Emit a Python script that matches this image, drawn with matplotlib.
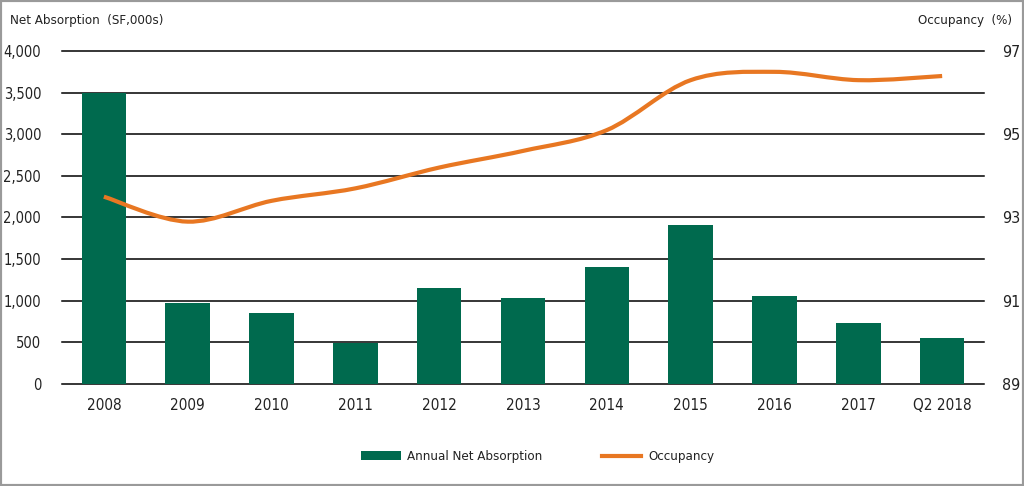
import matplotlib
matplotlib.use("Agg")
import matplotlib.pyplot as plt
from matplotlib.path import Path
from matplotlib.patches import PathPatch, Rectangle, Patch
from matplotlib.lines import Line2D
import numpy as np

plt.rcParams['font.family'] = ['DejaVu Sans']
plt.rcParams['font.stretch'] = 'condensed'

categories = ["2008", "2009", "2010", "2011", "2012", "2013", "2014", "2015", "2016", "2017", "Q2 2018"]
net_absorption = [3500, 970, 850, 495, 1155, 1035, 1405, 1910, 1055, 735, 550]
occupancy = [93.5, 92.9, 93.4, 93.7, 94.2, 94.6, 95.1, 96.3, 96.5, 96.3, 96.4]

left_ticks = [0, 500, 1000, 1500, 2000, 2500, 3000, 3500, 4000]
right_ticks = [89, 91, 93, 95, 97]

green = "#006a4e"
orange = "#e87722"
textc = "#222222"

fig = plt.figure(figsize=(10.24, 4.86), dpi=100)
ax = fig.add_axes([0.0605, 0.21, 0.9005, 0.685])
x = np.arange(len(categories))
ax.bar(x, net_absorption, width=0.53, color=green, zorder=3)
ax.set_xlim(-0.5, len(categories) - 0.5)
ax.set_ylim(0, 4000)
ax.set_yticks(left_ticks)
ax.set_yticklabels([f"{v:,}" for v in left_ticks])
ax.set_xticks(x)
ax.set_xticklabels(categories)
ax.grid(axis='y', color='black', linewidth=1.1, zorder=0)
for gl in ax.yaxis.get_gridlines():
    gl.set_clip_on(False)
for s in ax.spines.values():
    s.set_visible(False)
ax.tick_params(axis='both', length=0, colors=textc)
ax.tick_params(axis='y', pad=15, labelsize=10.5)
ax.tick_params(axis='x', pad=10, labelsize=11)

ax2 = ax.twinx()
ax2.set_ylim(89, 97)
ax2.set_yticks(right_ticks)
for s in ax2.spines.values():
    s.set_visible(False)
ax2.tick_params(axis='y', length=0, labelsize=11.5, pad=13, colors=textc)

# smooth curve through the data points (Catmull-Rom as cubic Bezier)
pts = np.column_stack([x, occupancy]).astype(float)
verts = [tuple(pts[0])]
codes = [Path.MOVETO]
n = len(pts)
for i in range(n - 1):
    p0 = pts[i - 1] if i > 0 else pts[i]
    p1 = pts[i]
    p2 = pts[i + 1]
    p3 = pts[i + 2] if i + 2 < n else pts[i + 1]
    c1 = p1 + (p2 - p0) / 6.0
    c2 = p2 - (p3 - p1) / 6.0
    verts += [tuple(c1), tuple(c2), tuple(p2)]
    codes += [Path.CURVE4, Path.CURVE4, Path.CURVE4]
path = Path(verts, codes)
ax2.add_patch(PathPatch(path, facecolor='none', edgecolor=orange, linewidth=3, capstyle='butt', zorder=4))

fig.text(0.010, 0.958, "Net Absorption  (SF,000s)", fontsize=9.5, ha='left', va='center', color=textc)
fig.text(0.988, 0.958, "Occupancy  (%)", fontsize=9.5, ha='right', va='center', color=textc)

handles = [Patch(facecolor=green, edgecolor='none'), Line2D([0], [0], color=orange, linewidth=3)]
leg = fig.legend(handles, ["Annual Net Absorption", "Occupancy"], loc='center', bbox_to_anchor=(0.525, 0.06),
                 ncol=2, frameon=False, fontsize=9.5, columnspacing=4.5, handlelength=3.0, handletextpad=0.5,
                 handleheight=0.6)
for t in leg.get_texts():
    t.set_color(textc)

fig.patches.append(Rectangle((0, 0), 1, 1, transform=fig.transFigure, fill=False,
                             edgecolor='#9a9a9a', linewidth=3, zorder=10))

fig.savefig("out.png", dpi=100)
